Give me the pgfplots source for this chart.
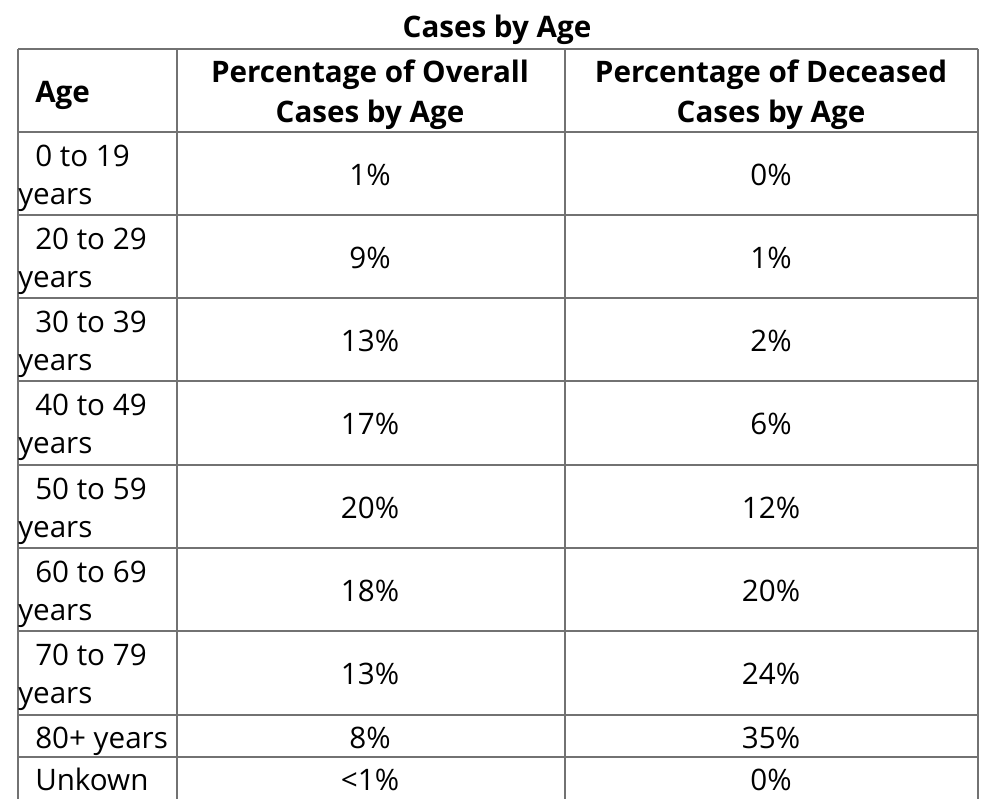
\documentclass[border=0pt]{standalone}
\usepackage{fontspec}
\setmainfont{Open Sans}
\usepackage{pgfplots}
\pgfplotsset{compat=1.18}
\definecolor{gridgray}{HTML}{727272}
\begin{document}
\begin{tikzpicture}
\begin{axis}[
  width=750pt, height=599.25pt, scale only axis,
  xmin=0, xmax=1000, ymin=0, ymax=799, y dir=reverse,
  hide axis, clip=false, unbounded coords=jump,
]
% table rules
\addplot[gridgray, line width=1.2pt, mark=none] coordinates {
 (18,49) (978,49) (nan,nan)
 (18,132) (978,132) (nan,nan)
 (18,215) (978,215) (nan,nan)
 (18,298) (978,298) (nan,nan)
 (18,381) (978,381) (nan,nan)
 (18,465) (978,465) (nan,nan)
 (18,548) (978,548) (nan,nan)
 (18,631) (978,631) (nan,nan)
 (18,715) (978,715) (nan,nan)
 (18,757) (978,757) (nan,nan)
 (18,49) (18,799) (nan,nan)
 (177,49) (177,799) (nan,nan)
 (565,49) (565,799) (nan,nan)
 (978,49) (978,799)
};
% title
\addplot[draw=none, mark=none, nodes near coords, point meta=explicit symbolic,
  every node near coord/.append style={anchor=base, inner sep=0pt, text=black, font=\fontsize{22.2pt}{30pt}\selectfont\bfseries}]
  table[col sep=comma, meta=label] {
x,y,label
497,37,Cases by Age
};
% headers centred
\addplot[draw=none, mark=none, nodes near coords, point meta=explicit symbolic,
  every node near coord/.append style={anchor=base, inner sep=0pt, text=black, font=\fontsize{22.2pt}{30pt}\selectfont\bfseries}]
  table[col sep=comma, meta=label] {
x,y,label
370,82,Percentage of Overall
370,122,Cases by Age
771,82,Percentage of Deceased
771,122,Cases by Age
};
% header left
\addplot[draw=none, mark=none, nodes near coords, point meta=explicit symbolic,
  every node near coord/.append style={anchor=base west, inner sep=0pt, text=black, font=\fontsize{22.2pt}{30pt}\selectfont\bfseries}]
  table[col sep=comma, meta=label] {
x,y,label
35,102,Age
};
% age column
\addplot[draw=none, mark=none, nodes near coords, point meta=explicit symbolic,
  every node near coord/.append style={anchor=base west, inner sep=0pt, text=black, font=\fontsize{22.2pt}{30pt}\selectfont}]
  table[col sep=comma, meta=label] {
x,y,label
35,166,0 to 19
18,204,years
35,249,20 to 29
18,287,years
35,332,30 to 39
18,370,years
35,415,40 to 49
18,453,years
35,499,50 to 59
18,537,years
35,582,60 to 69
18,620,years
35,665,70 to 79
18,703,years
35,748,80+ years
35,790,Unkown
};
% overall cases
\addplot[draw=none, mark=none, nodes near coords, point meta=explicit symbolic,
  every node near coord/.append style={anchor=base, inner sep=0pt, text=black, font=\fontsize{22.2pt}{30pt}\selectfont}]
  table[col sep=comma, meta=label] {
x,y,label
370,185,1\%
370,268,9\%
370,351,13\%
370,434,17\%
370,518,20\%
370,601,18\%
370,684,13\%
370,748,8\%
370,790,<1\%
};
% deceased cases
\addplot[draw=none, mark=none, nodes near coords, point meta=explicit symbolic,
  every node near coord/.append style={anchor=base, inner sep=0pt, text=black, font=\fontsize{22.2pt}{30pt}\selectfont}]
  table[col sep=comma, meta=label] {
x,y,label
771,185,0\%
771,268,1\%
771,351,2\%
771,434,6\%
771,518,12\%
771,601,20\%
771,684,24\%
771,748,35\%
771,790,0\%
};
\end{axis}
\useasboundingbox (current axis.south west) rectangle (current axis.north east);
\end{tikzpicture}
\end{document}
